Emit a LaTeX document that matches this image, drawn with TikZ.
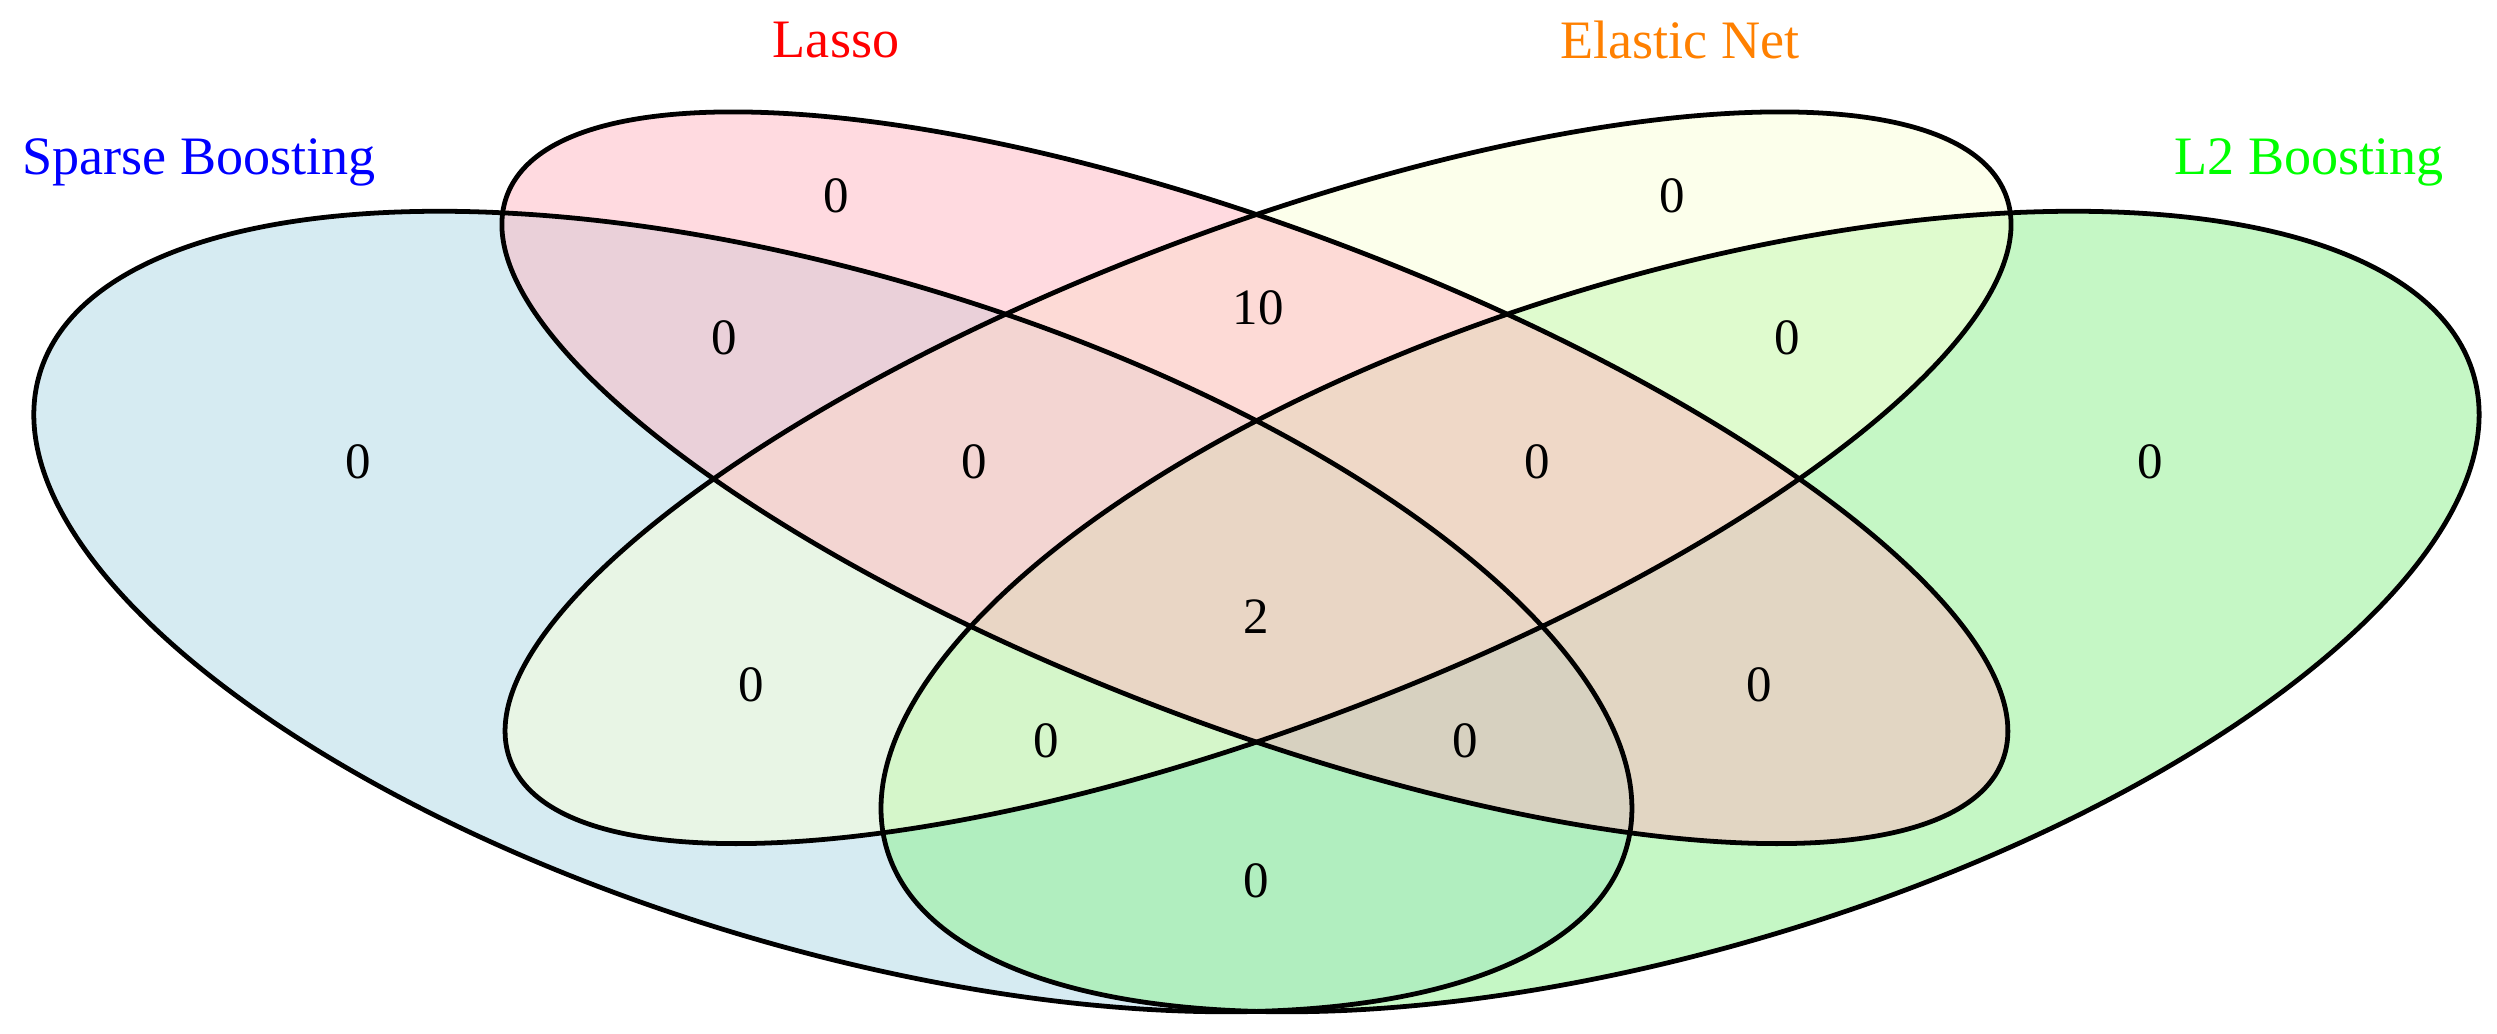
\documentclass[tikz,border=0pt]{standalone}
\usepackage{fontspec}
\setmainfont{Liberation Serif}
\begin{document}
\begin{tikzpicture}[x=1pt,y=-1pt,
  setshape/.style={line width=3pt},
  lab/.style={font=\fontsize{34}{38}\selectfont},
  num/.style={font=\fontsize{32}{36}\selectfont}]
\useasboundingbox (0,0) rectangle (1568,649);
\definecolor{cblue}{RGB}{173,216,230}
\definecolor{cpink}{RGB}{255,182,193}
\definecolor{cyel}{RGB}{250,255,215}
\definecolor{cgreen}{RGB}{140,240,140}
\fill[cblue,opacity=0.5,rotate around={-16.7:(523,384)}] (523,384) ellipse [x radius=520,y radius=211];
\fill[cgreen,opacity=0.5,rotate around={16.7:(1055,384)}] (1055,384) ellipse [x radius=520,y radius=211];
\fill[cyel,opacity=0.5,rotate around={20.7:(790,300)}] (790,300) ellipse [x radius=502,y radius=156];
\fill[cpink,opacity=0.5,rotate around={-20.7:(788,300)}] (788,300) ellipse [x radius=502,y radius=156];
\draw[setshape,rotate around={-16.7:(523,384)}] (523,384) ellipse [x radius=520,y radius=211];
\draw[setshape,rotate around={-20.7:(788,300)}] (788,300) ellipse [x radius=502,y radius=156];
\draw[setshape,rotate around={20.7:(790,300)}] (790,300) ellipse [x radius=502,y radius=156];
\draw[setshape,rotate around={16.7:(1055,384)}] (1055,384) ellipse [x radius=520,y radius=211];
\node[lab,text=blue] (ls) at (125,102) {Sparse Boosting};
\node[lab,text=red] (ll) at (525,25) {Lasso};
\node[lab,text=orange] (le) at (1055,25) {Elastic Net};
\node[lab,text=green] (lg) at (1450,102) {L2 Boosting};
\node[num] (n1) at (525,123) {0};
\node[num] (n2) at (1050,123) {0};
\node[num] (n3) at (455,212) {0};
\node[num] (n4) at (790,193) {10};
\node[num] (n5) at (1122,212) {0};
\node[num] (n6) at (225,290) {0};
\node[num] (n7) at (612,290) {0};
\node[num] (n8) at (965,290) {0};
\node[num] (n9) at (1350,290) {0};
\node[num] (n10) at (789,387) {2};
\node[num] (n11) at (472,430) {0};
\node[num] (n12) at (1105,430) {0};
\node[num] (n13) at (657,465) {0};
\node[num] (n14) at (920,465) {0};
\node[num] (n15) at (789,553) {0};
\end{tikzpicture}
\end{document}
